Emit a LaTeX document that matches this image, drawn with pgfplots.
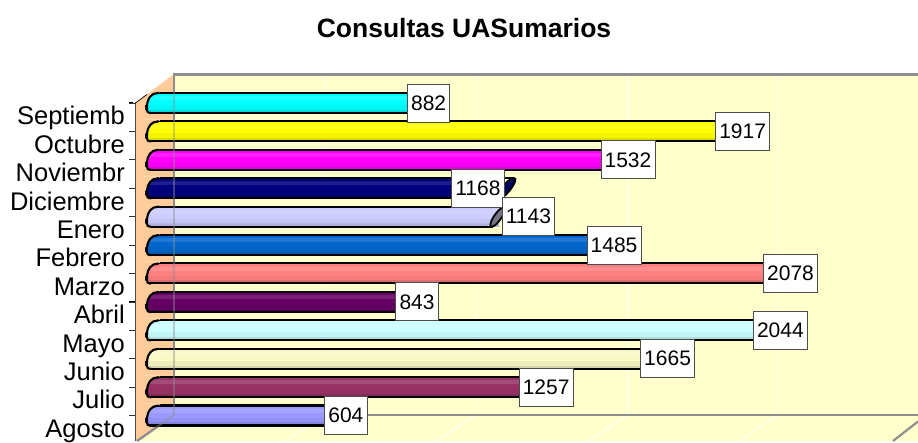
\documentclass[border=0pt]{standalone}
\usepackage{pgfplots}
\pgfplotsset{compat=1.18}
\usepackage{fontspec}
\setmainfont{Liberation Sans}
\definecolor{wallback}{HTML}{FFFFCC}
\definecolor{wallside}{HTML}{FFCC99}
\definecolor{wallline}{HTML}{8E8E8E}
\definecolor{cSep}{HTML}{00FFFF}
\definecolor{cOct}{HTML}{FFFF00}
\definecolor{cNov}{HTML}{FF00FF}
\definecolor{cDic}{HTML}{000080}
\definecolor{cEne}{HTML}{CCCCFF}
\definecolor{cFeb}{HTML}{0066CC}
\definecolor{cMar}{HTML}{FF8080}
\definecolor{cAbr}{HTML}{660066}
\definecolor{cMay}{HTML}{CCFFFF}
\definecolor{cJun}{HTML}{F8F8C4}
\definecolor{cJul}{HTML}{993366}
\definecolor{cAgo}{HTML}{9999FF}
\newcommand\barshade[2]{%
 \pgfdeclareverticalshading{#1}{100bp}{%
  color(0bp)=(#2!62!black); color(12bp)=(#2!62!black);
  color(12.1bp)=(#2!74!black); color(22bp)=(#2!74!black);
  color(22.1bp)=(#2!86!black); color(34bp)=(#2!86!black);
  color(34.1bp)=(#2!96!black); color(46bp)=(#2!96!black);
  color(46.1bp)=(#2); color(58bp)=(#2);
  color(58.1bp)=(#2!88!white); color(68bp)=(#2!88!white);
  color(68.1bp)=(#2); color(80bp)=(#2);
  color(80.1bp)=(#2!92!black); color(90bp)=(#2!92!black);
  color(90.1bp)=(#2!82!black); color(100bp)=(#2!82!black)}}
\barshade{sSep}{cSep}\barshade{sOct}{cOct}\barshade{sNov}{cNov}\barshade{sDic}{cDic}
\barshade{sEne}{cEne}\barshade{sFeb}{cFeb}\barshade{sMar}{cMar}\barshade{sAbr}{cAbr}
\barshade{sMay}{cMay}\barshade{sJun}{cJun}\barshade{sJul}{cJul}\barshade{sAgo}{cAgo}
\pgfplotsset{
 geom/.style={at={(135pt,-441pt)},anchor=south west,scale only axis,width=783pt,height=367pt,
  xmin=-38.63,xmax=2591.5,ymin=-0.8968,ymax=12.019},
 onebar/.style={xbar,bar width=20pt,bar shift=0pt,draw=black,line width=2.1pt,shading=#1,shading angle=0},
 boxlab/.style={nodes near coords,point meta=x,draw=none,mark=none,
  nodes near coords style={anchor=west,fill=white,draw=black!70,line width=.9pt,inner sep=0pt,
   inner xsep=3.6pt,minimum height=38pt,text=black,font=\fontsize{21}{21}\selectfont,
   /pgf/number format/1000 sep={},/pgf/number format/assume math mode=true,xshift=#1}},
 boxlab/.default=-2pt}
\begin{document}
\begin{tikzpicture}
\begin{scope}[x=1pt,y=-1pt]
\path[use as bounding box] (0,0) rectangle (918,441);
% walls
\fill[wallback] (174,74) rectangle (918,415);
\fill[wallback] (135,441) -- (174,415) -- (918,415) -- (918,441) -- cycle;
\fill[wallside] (135,103.3) -- (174,74) -- (174,415) -- (135,441) -- cycle;
\foreach \g in {325,476,627.5,778}{
 \draw[white,line width=.9pt] (\g,75) -- (\g,415) -- ({\g-39},441);}
\draw[wallline,line width=2.2pt] (174,415) -- (137,441);
\draw[wallline,line width=2.2pt] (174,415) -- (174,74.5) -- (918,74.5);
\draw[wallline,line width=2.2pt] (174,415) -- (918,415);
\draw[wallline,line width=2.2pt] (918,421.5) -- (893,441);
\end{scope}
\begin{axis}[geom,
 hide x axis,axis y line*=left,y axis line style={-,black!70,line width=.9pt},
 ytick={0,...,11},
 yticklabels={Agosto,Julio,Junio,Mayo,Abril,Marzo,Febrero,Enero,Diciembre,Noviembr,Octubre,Septiemb},
 yticklabel style={font=\fontsize{25.5}{25.5}\selectfont,yshift=-15.3pt,anchor=east,inner sep=0pt,xshift=-4pt,
  text height=18.5pt,text depth=5.4pt},
 tick align=outside,major tick length=6pt,tick style={black,line width=1pt},
 clip=false]
\addplot[onebar=sAgo] coordinates {(604,0)};
\addplot[onebar=sJul] coordinates {(1257,1)};
\addplot[onebar=sJun] coordinates {(1665,2)};
\addplot[onebar=sMay] coordinates {(2044,3)};
\addplot[onebar=sAbr] coordinates {(843,4)};
\addplot[onebar=sMar] coordinates {(2078,5)};
\addplot[onebar=sFeb] coordinates {(1485,6)};
\addplot[onebar=sEne] coordinates {(1143,7)};
\addplot[onebar=sDic] coordinates {(1168,8)};
\addplot[onebar=sNov] coordinates {(1532,9)};
\addplot[onebar=sOct] coordinates {(1917,10)};
\addplot[onebar=sSep] coordinates {(882,11)};
\end{axis}
\begin{scope}[x=1pt,y=-1pt]
\fill[white] (133,72) rectangle (136,102.6);
\fill[white] (135,102.6) -- (135,72) -- (172,72) -- cycle;
% tick marks and rounded left ends of the bars
\foreach \k in {0,...,11}{
 \pgfmathsetmacro\yc{415.7-28.43*\k}
 \pgfmathsetmacro\yt{\yc-10}
 \pgfmathsetmacro\yb{\yc+10}
 \draw[black!80,line width=.9pt] (129,\yc) -- (135,\yc);
 \def\maskA{(143,\yt-2) -- (160,\yt-2) -- (160,\yt-1.1) -- (158,\yt) .. controls (151,\yt) and (147.5,\yt+6) .. (147,\yt+12) -- (143,\yt+12) -- cycle}
 \def\maskB{(143,\yb-3) -- (147,\yb-3) .. controls (147,\yb-1) and (148,\yb) .. (150,\yb) -- (150,\yb+1.5) -- (143,\yb+1.5) -- cycle}
 \fill[white] \maskA;
 \begin{scope}
  \clip (135,103.3) -- (174,74) -- (174,415) -- (135,441) -- cycle;
  \fill[wallside] \maskA;
  \fill[wallside] \maskB;
 \end{scope}
 \draw[black,line width=2.1pt] (159,\yt) -- (158,\yt) .. controls (151,\yt) and (147.5,\yt+6) .. (147,\yt+12) -- (147,\yb-3) .. controls (147,\yb-1) and (148,\yb) .. (150,\yb) -- (151,\yb);
}
\draw[black,line width=.7pt] (135,103.3) -- (147,94.4);
% far ends visible on the two displaced labels
\shade[shading=sEne] (485,206.7) rectangle (499,226.7);
\draw[black,line width=2.1pt] (485,206.7) -- (503,206.7);
\draw[black,line width=2.1pt] (485,226.7) -- (493,226.7);
\draw[black,line width=1.8pt,fill=cEne!35!black!75] (492,226.7) .. controls (497,226.7) and (510,206.7) .. (505,206.7) .. controls (498,206.7) and (486,226.7) .. (492,226.7) -- cycle;
\draw[black,line width=1.8pt,fill=cDic!75!black] (500,198.1) .. controls (506,198.1) and (520,178.1) .. (514,178.1) .. controls (506,178.1) and (494,198.1) .. (500,198.1) -- cycle;
\draw[black,line width=2.1pt] (494,178.1) -- (514,178.1);
\draw[black,line width=2.1pt] (494,198.1) -- (500,198.1);
% wall edge seen through the bars
\draw[wallline,opacity=.45,line width=2.2pt] (174,415) -- (174,74.5);
\draw[wallline,opacity=.45,line width=2.2pt] (174,415) -- (137,441);
\end{scope}
\begin{axis}[geom,hide axis,clip=false]
\addplot[boxlab] coordinates {(604,0)};
\addplot[boxlab] coordinates {(1257,1)};
\addplot[boxlab] coordinates {(1665,2)};
\addplot[boxlab] coordinates {(2044,3)};
\addplot[boxlab] coordinates {(843,4)};
\addplot[boxlab] coordinates {(2078,5)};
\addplot[boxlab] coordinates {(1485,6)};
\addplot[boxlab=-43pt] coordinates {(1168,8)};
\addplot[boxlab=15pt] coordinates {(1143,7)};
\addplot[boxlab] coordinates {(1532,9)};
\addplot[boxlab] coordinates {(1917,10)};
\addplot[boxlab] coordinates {(882,11)};
\end{axis}
\begin{scope}[x=1pt,y=-1pt]
\node[font=\bfseries\fontsize{26.5}{26.5}\selectfont,anchor=center] at (464,28.5) {Consultas UASumarios};
\end{scope}
\end{tikzpicture}
\end{document}
